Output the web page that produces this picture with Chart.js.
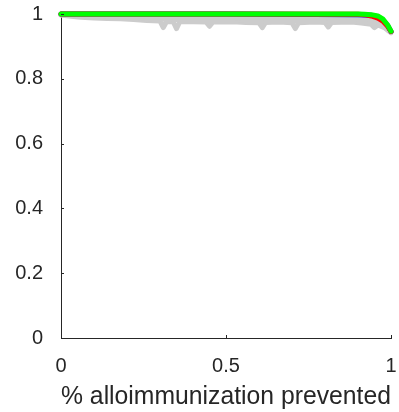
<!DOCTYPE html>
<html>
<head>
<meta charset="utf-8">
<script src="https://cdn.jsdelivr.net/npm/chart.js@4/dist/chart.umd.min.js"></script>
<style>
  html, body { margin: 0; padding: 0; background: #fff; }
  #wrap { width: 399px; height: 412px; }
</style>
</head>
<body>
<div id="wrap"><canvas id="grafico"></canvas></div>
<script>
// datos
const xTicks = [0, 0.5, 1];
const yTicks = [0, 0.2, 0.4, 0.6, 0.8, 1];

const grisX = [0, 0.03, 0.06, 0.1, 0.14, 0.18, 0.22, 0.26, 0.3, 0.31, 0.32, 0.34, 0.35, 0.36, 0.4, 0.44, 0.45, 0.46, 0.47, 0.52, 0.56, 0.6, 0.61, 0.62, 0.66, 0.7, 0.71, 0.72, 0.77, 0.8, 0.81, 0.82, 0.88, 0.91, 0.94, 0.95, 0.96, 0.98, 1];
const grisBajo = [0.997, 0.993, 0.99, 0.988, 0.986, 0.985, 0.983, 0.98, 0.978, 0.958, 0.977, 0.976, 0.955, 0.976, 0.976, 0.975, 0.962, 0.975, 0.975, 0.976, 0.974, 0.973, 0.958, 0.974, 0.975, 0.973, 0.955, 0.973, 0.975, 0.974, 0.96, 0.974, 0.975, 0.972, 0.968, 0.958, 0.966, 0.958, 0.942];
const grisMedio = [0.998, 0.995, 0.993, 0.991, 0.99, 0.989, 0.988, 0.986, 0.985, 0.984, 0.984, 0.983, 0.983, 0.982, 0.982, 0.982, 0.981, 0.981, 0.981, 0.981, 0.98, 0.98, 0.98, 0.979, 0.98, 0.979, 0.979, 0.979, 0.979, 0.979, 0.978, 0.978, 0.978, 0.977, 0.975, 0.972, 0.968, 0.96, 0.943];
const grisAlto = [0.999, 0.997, 0.996, 0.995, 0.994, 0.994, 0.993, 0.992, 0.992, 0.991, 0.991, 0.99, 0.99, 0.99, 0.99, 0.99, 0.989, 0.989, 0.989, 0.989, 0.988, 0.988, 0.988, 0.987, 0.988, 0.987, 0.987, 0.987, 0.987, 0.987, 0.986, 0.986, 0.986, 0.985, 0.982, 0.98, 0.976, 0.965, 0.944];

const curvaX = [0, 0.5, 0.9, 0.92, 0.94, 0.96, 0.975, 0.99, 1];
const verde = [1, 1, 1, 0.999, 0.998, 0.994, 0.985, 0.966, 0.947];
const rojo = [1, 1, 0.999, 0.998, 0.994, 0.987, 0.978, 0.962, 0.946];
const azul = [1, 1, 0.998, 0.997, 0.996, 0.992, 0.982, 0.964, 0.946];

function pares(xs, ys) {
  return xs.map(function (x, i) { return { x: x, y: ys[i] }; });
}

function serie(datos, color, orden) {
  return {
    data: datos,
    borderColor: color,
    borderWidth: 5,
    borderCapStyle: 'round',
    borderJoinStyle: 'round',
    pointRadius: 0,
    fill: false,
    tension: 0,
    clip: false,
    order: orden
  };
}

// marcas hacia adentro como en matlab
const marcasInternas = {
  id: 'marcasInternas',
  afterDraw: function (chart) {
    const c = chart.ctx;
    const xs = chart.scales.x, ys = chart.scales.y;
    const a = chart.chartArea;
    c.save();
    c.strokeStyle = '#262626';
    c.lineWidth = 1;
    c.beginPath();
    yTicks.forEach(function (v) {
      const py = Math.round(ys.getPixelForValue(v)) + 0.5;
      c.moveTo(a.left, py);
      c.lineTo(a.left + 3, py);
    });
    xTicks.forEach(function (v) {
      const px = Math.round(xs.getPixelForValue(v)) + 0.5;
      c.moveTo(px, a.bottom);
      c.lineTo(px, a.bottom - 3);
    });
    c.stroke();
    c.restore();
  }
};

const ctx = document.getElementById('grafico').getContext('2d');
const miGrafico = new Chart(ctx, {
  type: 'line',
  plugins: [marcasInternas],
  data: {
    datasets: [
      serie(pares(curvaX, verde), '#00ff00', 0),
      serie(pares(curvaX, rojo), '#ff0000', 1),
      serie(pares(curvaX, azul), '#0000ff', 2),
      serie(pares(grisX, grisAlto), '#cccccc', 3),
      serie(pares(grisX, grisMedio), '#cccccc', 4),
      serie(pares(grisX, grisBajo), '#cccccc', 5)
    ]
  },
  options: {
    responsive: true,
    maintainAspectRatio: false,
    animation: false,
    layout: { padding: { top: 14, right: 8, left: 0, bottom: 0 } },
    plugins: {
      legend: { display: false },
      tooltip: { enabled: false }
    },
    scales: {
      x: {
        type: 'linear',
        min: 0,
        max: 1,
        afterBuildTicks: function (scale) {
          scale.ticks = xTicks.map(function (v) { return { value: v }; });
        },
        afterFit: function (scale) {
          scale.height = 74;
          scale.paddingLeft = 0;
          scale.paddingRight = 0;
        },
        grid: { display: false },
        border: { display: true, color: '#262626', width: 1 },
        ticks: {
          color: '#262626',
          padding: 8,
          maxRotation: 0,
          callback: function (value) { return String(value); },
          font: { family: 'Liberation Sans', size: 20 }
        },
        title: {
          display: true,
          text: '% alloimmunization prevented',
          color: '#262626',
          padding: { top: 0, bottom: 0 },
          font: { family: 'Liberation Sans', size: 26 }
        }
      },
      y: {
        type: 'linear',
        min: 0,
        max: 1,
        afterBuildTicks: function (scale) {
          scale.ticks = yTicks.map(function (v) { return { value: v }; });
        },
        afterFit: function (scale) {
          scale.width = 61;
          scale.paddingTop = 0;
          scale.paddingBottom = 0;
        },
        grid: { display: false },
        border: { display: true, color: '#262626', width: 1 },
        ticks: {
          color: '#262626',
          padding: 10,
          callback: function (value) { return String(Math.round(value * 10) / 10); },
          font: { family: 'Liberation Sans', size: 20 }
        }
      }
    }
  }
});
</script>
</body>
</html>
